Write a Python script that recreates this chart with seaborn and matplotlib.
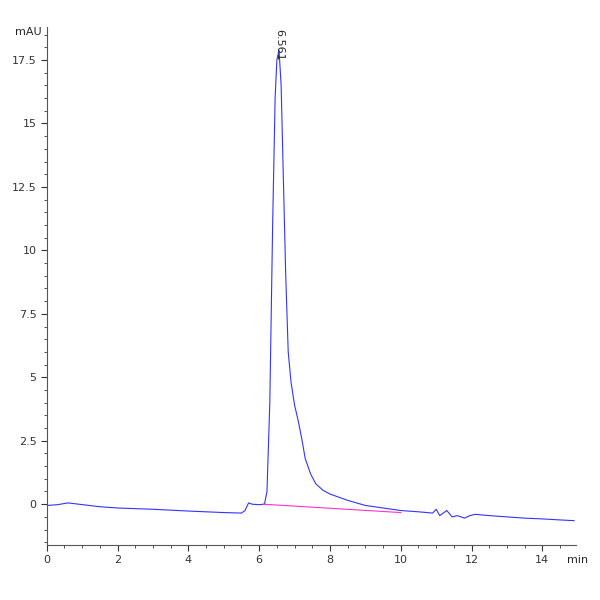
import matplotlib
matplotlib.use("Agg")
import matplotlib.pyplot as plt
import seaborn as sns
import pandas as pd
from matplotlib.ticker import MultipleLocator

time_min = [0.0, 0.3, 0.6, 0.9, 1.5, 2.0, 3.0, 4.0, 5.0, 5.5, 5.6, 5.7, 5.8, 6.0, 6.15,
            6.22, 6.3, 6.38, 6.45, 6.5, 6.56, 6.62, 6.68, 6.75, 6.82, 6.9, 7.0, 7.1, 7.2,
            7.3, 7.45, 7.6, 7.8, 8.0, 8.5, 9.0, 9.5, 10.0, 10.5, 10.9, 11.0, 11.1, 11.3,
            11.45, 11.6, 11.8, 11.95, 12.1, 12.5, 13.0, 13.5, 14.0, 14.5, 14.9]
signal_mau = [-0.05, -0.02, 0.05, 0.0, -0.1, -0.15, -0.2, -0.27, -0.33, -0.35, -0.25, 0.05, 0.0,
              -0.02, 0.0, 0.5, 4.0, 11.0, 16.0, 17.5, 17.9, 16.5, 13.0, 9.0, 6.0, 4.8, 3.9,
              3.3, 2.6, 1.8, 1.2, 0.8, 0.55, 0.4, 0.15, -0.05, -0.15, -0.25, -0.3, -0.35,
              -0.2, -0.45, -0.25, -0.5, -0.45, -0.55, -0.45, -0.4, -0.45, -0.5, -0.55,
              -0.58, -0.62, -0.65]
base_t = [6.1, 10.0]
base_y = [0.0, -0.33]

sns.set_style("white")
fig, ax = plt.subplots(figsize=(6, 6), dpi=100)
fig.subplots_adjust(left=0.078, right=0.96, top=0.955, bottom=0.092)
df = pd.DataFrame({"t": time_min, "y": signal_mau})
sns.lineplot(data=df, x="t", y="y", ax=ax, color="#3333ff", lw=0.8)
sns.lineplot(x=base_t, y=base_y, ax=ax, color="#ff33cc", lw=0.8)
ax.set_xlim(0, 14.95)
ax.set_ylim(-1.6, 18.8)
ax.set_xlabel(""); ax.set_ylabel("")
for s in ["top", "right"]:
    ax.spines[s].set_visible(False)
for s in ["left", "bottom"]:
    ax.spines[s].set_color("#555555")
ax.xaxis.set_major_locator(MultipleLocator(2))
ax.xaxis.set_minor_locator(MultipleLocator(0.5))
ax.yaxis.set_major_locator(MultipleLocator(2.5))
ax.yaxis.set_minor_locator(MultipleLocator(0.5))
ax.tick_params(which="both", direction="out", bottom=True, left=True, colors="#333333", labelsize=8)
ax.tick_params(which="major", length=4)
ax.tick_params(which="minor", length=2)
ax.set_yticks([0, 2.5, 5, 7.5, 10, 12.5, 15, 17.5])
ax.set_yticklabels(["0", "2.5", "5", "7.5", "10", "12.5", "15", "17.5"])
ax.set_xticks([0, 2, 4, 6, 8, 10, 12, 14])
ax.text(-0.15, 18.6, "mAU", ha="right", va="center", fontsize=8)
ax.text(15.0, -2.0, "min", ha="center", va="top", fontsize=8)
ax.text(6.56, 18.1, "6.561", rotation=270, ha="center", va="center", fontsize=8)
fig.savefig("out.png", dpi=100)
